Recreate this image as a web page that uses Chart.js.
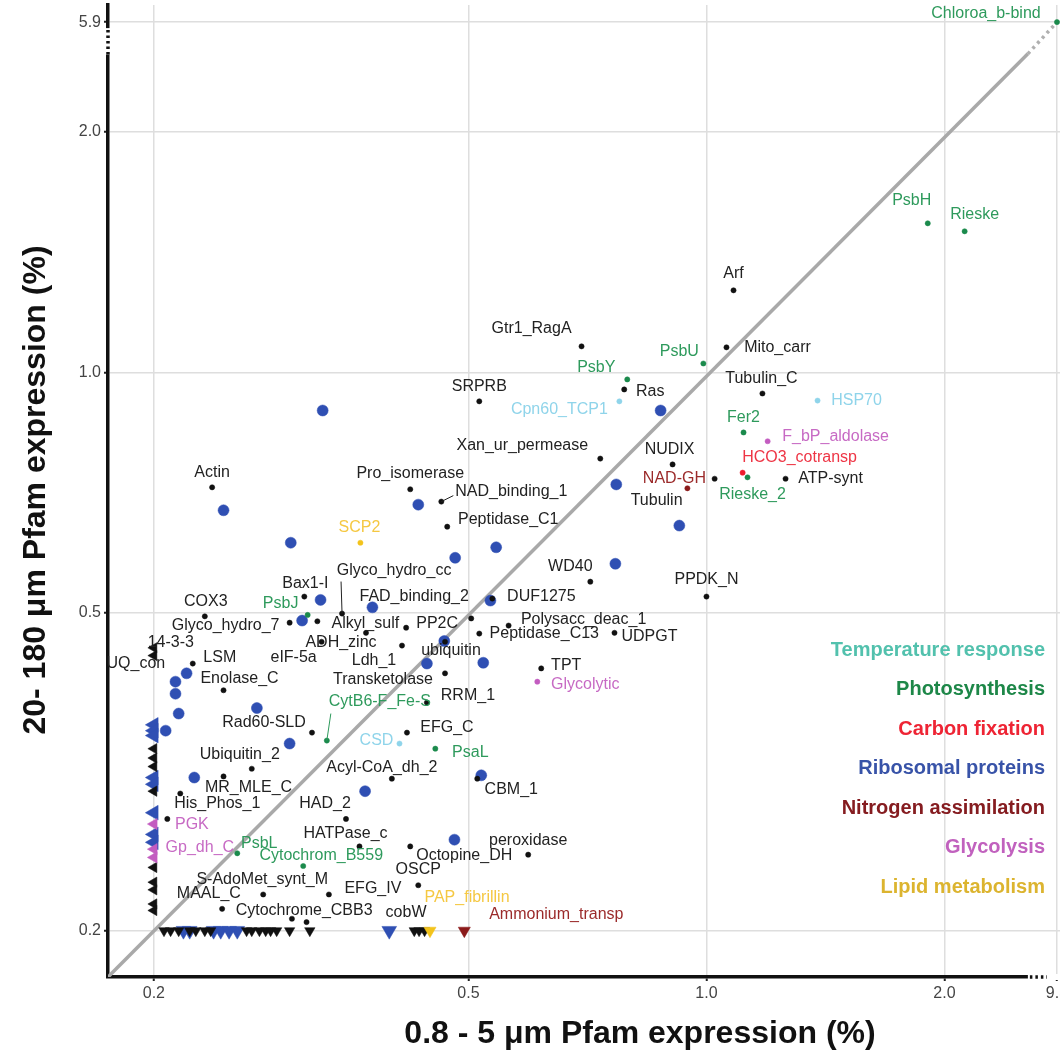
<!DOCTYPE html>
<html>
<head>
<meta charset="utf-8">
<script src="https://cdn.jsdelivr.net/npm/chart.js"></script>
<style>
  html, body { margin: 0; padding: 0; background: #fff; }
  #wrap { width: 1060px; height: 1055px; overflow: hidden; }
</style>
</head>
<body>
<div id="wrap"><canvas id="pfamChart" width="1060" height="1055"></canvas></div>
<script>
// values below this are plotted on the edge as triangles
const DETECT = 0.2;

const xTicks = [0.2, 0.5, 1.0, 2.0, 9.3];
const yTicks = [0.2, 0.5, 1.0, 2.0, 5.9];

const xTitle = '0.8 - 5 μm Pfam expression (%)';
const yTitle = '20- 180 μm Pfam expression (%)';

const groupNames = ['Temperature response', 'Photosynthesis', 'Carbon fixation', 'Ribosomal proteins',
  'Nitrogen assimilation', 'Glycolysis', 'Lipid metabolism'];
const groupColors = ['#52c1ad', '#1d8748', '#ee2434', '#3853a8', '#851c20', '#c161be', '#dcb42f'];

// unassigned Pfams (black)
const otherNames = ['Arf', 'Gtr1_RagA', 'Mito_carr', 'Ras', 'SRPRB', 'Tubulin_C', 'Xan_ur_permease', 'NUDIX', 'Tubulin', 'ATP-synt',
  'PPDK_N', 'Actin', 'Pro_isomerase', 'NAD_binding_1', 'Peptidase_C1', 'WD40', 'DUF1275', 'Bax1-I', 'Glyco_hydro_cc', 'FAD_binding_2',
  'PP2C', 'COX3', 'Glyco_hydro_7', 'Alkyl_sulf', 'eIF-5a', 'ADH_zinc', 'Ldh_1', 'ubiquitin', 'Peptidase_C13', 'Polysacc_deac_1',
  'UDPGT', 'LSM', 'Enolase_C', 'TPT', 'Transketolase', 'RRM_1', 'Rad60-SLD', 'EFG_C', 'Ubiquitin_2', 'Acyl-CoA_dh_2',
  'MR_MLE_C', 'CBM_1', 'His_Phos_1', 'HAD_2', 'HATPase_c', 'peroxidase', 'Octopine_DH', 'OSCP', 'S-AdoMet_synt_M', 'EFG_IV',
  'Cytochrome_CBB3', '', '', ''];
const otherX = [1.082, 0.695, 1.060, 0.787, 0.516, 1.177, 0.734, 0.906, 1.024, 1.259,
  1.000, 0.237, 0.422, 0.462, 0.470, 0.713, 0.536, 0.310, 0.346, 0.504,
  0.417, 0.232, 0.297, 0.322, 0.326, 0.371, 0.412, 0.467, 0.516, 0.562,
  0.765, 0.224, 0.245, 0.618, 0.467, 0.443, 0.317, 0.418, 0.266, 0.400,
  0.245, 0.513, 0.216, 0.350, 0.364, 0.595, 0.422, 0.432, 0.275, 0.333,
  0.244, 0.299, 0.312, 0.208];
const otherY = [1.267, 1.078, 1.075, 0.952, 0.920, 0.941, 0.780, 0.767, 0.736, 0.736,
  0.524, 0.718, 0.714, 0.689, 0.641, 0.547, 0.521, 0.524, 0.499, 0.492,
  0.479, 0.495, 0.486, 0.488, 0.460, 0.472, 0.455, 0.460, 0.471, 0.482,
  0.472, 0.432, 0.400, 0.426, 0.420, 0.386, 0.354, 0.354, 0.319, 0.310,
  0.312, 0.310, 0.297, 0.276, 0.255, 0.249, 0.255, 0.228, 0.222, 0.222,
  0.213, 0.207, 0.205, 0.276];
const otherLeftNames = ['14-3-3', 'UQ_con', '', '', '', '', '', '', 'MAAL_C', '', ''];
const otherLeftY = [0.452, 0.442, 0.338, 0.329, 0.321, 0.299, 0.240, 0.230, 0.225, 0.216, 0.212];
const otherBottomNames = ['', '', '', '', '', '', '', '', '', '', '', '', '', '', '', '', 'cobW', ''];
const otherBottomX = [0.206, 0.210, 0.215, 0.222, 0.226, 0.232, 0.236, 0.262, 0.266, 0.272,
  0.277, 0.281, 0.286, 0.297, 0.315, 0.427, 0.433, 0.440];

// ribosomal proteins (unlabelled)
const riboX = [0.327, 0.875, 0.769, 0.924, 0.767, 0.245, 0.298, 0.432, 0.542, 0.481,
  0.533, 0.325, 0.378, 0.308, 0.466, 0.522, 0.443, 0.220, 0.213, 0.213,
  0.215, 0.270, 0.297, 0.370, 0.225, 0.519, 0.480, 0.207];
const riboY = [0.896, 0.896, 0.724, 0.643, 0.576, 0.672, 0.612, 0.683, 0.604, 0.586,
  0.518, 0.519, 0.508, 0.489, 0.461, 0.433, 0.432, 0.420, 0.410, 0.396,
  0.374, 0.380, 0.343, 0.299, 0.311, 0.313, 0.260, 0.356];
const riboLeftY = [0.362, 0.356, 0.351, 0.311, 0.305, 0.281, 0.264, 0.258];
const riboBottomX = [0.218, 0.222, 0.238, 0.243, 0.249, 0.255, 0.397];

const photoNames = ['Chloroa_b-bind', 'PsbH', 'Rieske', 'PsbU', 'PsbY', 'Fer2', 'Rieske_2', 'PsbJ', 'CytB6-F_Fe-S', 'PsaL', 'PsbL', 'Cytochrom_B559'];
const photoX = [9.3, 1.905, 2.121, 0.991, 0.794, 1.114, 1.127, 0.313, 0.331, 0.454, 0.255, 0.309];
const photoY = [5.9, 1.537, 1.502, 1.026, 0.980, 0.841, 0.739, 0.497, 0.346, 0.338, 0.250, 0.241];

const tempNames = ['Cpn60_TCP1', 'HSP70', 'CSD'];
const tempX = [0.776, 1.382, 0.409];
const tempY = [0.920, 0.922, 0.343];

const carbonNames = ['HCO3_cotransp'];
const carbonX = [1.111];
const carbonY = [0.749];

const nitroNames = ['NAD-GH'];
const nitroX = [0.946];
const nitroY = [0.716];
const nitroBottomNames = ['Ammonium_transp'];
const nitroBottomX = [0.494];

const glycoNames = ['F_bP_aldolase', 'Glycolytic'];
const glycoX = [1.195, 0.611];
const glycoY = [0.820, 0.410];
const glycoLeftNames = ['PGK', 'Gp_dh_C', ''];
const glycoLeftY = [0.272, 0.253, 0.247];

const lipidNames = ['SCP2'];
const lipidX = [0.365];
const lipidY = [0.612];
const lipidBottomNames = ['PAP_fibrillin'];
const lipidBottomX = [0.447];

// label placement, pixels from the point to the label centre
const labelNudge = {
  'Arf': [0, -17], 'Gtr1_RagA': [-50, -18], 'Mito_carr': [51, 0], 'Ras': [26, 2], 'SRPRB': [0, -15],
  'Tubulin_C': [-1, -15], 'Xan_ur_permease': [-78, -13], 'NUDIX': [-3, -15], 'Tubulin': [-58, 22],
  'ATP-synt': [45, 0], 'PPDK_N': [0, -17], 'Actin': [0, -15], 'Pro_isomerase': [0, -16],
  'NAD_binding_1': [70, -10], 'Peptidase_C1': [61, -7], 'WD40': [-20, -15], 'DUF1275': [49, -2],
  'Bax1-I': [1, -13], 'Glyco_hydro_cc': [52, -43], 'FAD_binding_2': [-57, -22], 'PP2C': [31, -4],
  'COX3': [1, -15], 'Glyco_hydro_7': [-64, 3], 'Alkyl_sulf': [48, 2], 'eIF-5a': [-28, 16],
  'ADH_zinc': [-25, 10], 'Ldh_1': [-28, 15], 'ubiquitin': [6, 9], 'Peptidase_C13': [65, 0],
  'Polysacc_deac_1': [75, -6], 'UDPGT': [35, 4], '14-3-3': [17, -5], 'UQ_con': [-18, 8],
  'LSM': [27, -6], 'Enolase_C': [16, -12], 'TPT': [25, -3], 'Transketolase': [-62, 6],
  'RRM_1': [41, -7], 'Rad60-SLD': [-48, -10], 'EFG_C': [40, -5], 'Ubiquitin_2': [-12, -14],
  'Acyl-CoA_dh_2': [-10, -11], 'MR_MLE_C': [25, 11], 'CBM_1': [34, 11], 'His_Phos_1': [37, 10],
  'HAD_2': [-21, -15], 'HATPase_c': [-14, -13], 'peroxidase': [0, -14], 'Octopine_DH': [54, 9],
  'OSCP': [0, -16], 'S-AdoMet_synt_M': [-1, -15], 'MAAL_C': [55, 4], 'EFG_IV': [44, -6],
  'Cytochrome_CBB3': [82, 2], 'cobW': [-13, -18],
  'Chloroa_b-bind': [-71, -9], 'PsbH': [-16, -23], 'Rieske': [10, -17], 'PsbU': [-24, -12],
  'PsbY': [-31, -12], 'Fer2': [0, -15], 'Rieske_2': [5, 17], 'PsbJ': [-27, -11],
  'CytB6-F_Fe-S': [53, -39], 'PsaL': [35, 4], 'PsbL': [22, -10], 'Cytochrom_B559': [18, -10],
  'Cpn60_TCP1': [-60, 8], 'HSP70': [39, 0], 'CSD': [-23, -3], 'HCO3_cotransp': [57, -15],
  'NAD-GH': [-13, -10], 'Ammonium_transp': [92, -16], 'F_bP_aldolase': [68, -5],
  'Glycolytic': [48, 3], 'PGK': [38, 1], 'Gp_dh_C': [46, -2], 'SCP2': [-1, -15], 'PAP_fibrillin': [37, -33]
};
const leaderLines = { 'Glyco_hydro_cc': [-1, -32], 'CytB6-F_Fe-S': [4, -27], 'NAD_binding_1': [12, -6] };

// broken log axis: above `at` the log distance is squeezed
const breaks = { x: { at: 2.55, squeeze: 0.0655 }, y: { at: 2.5, squeeze: 0.109 } };

const LogScale = Chart.LogarithmicScale || Chart.registry.getScale('logarithmic');
class BrokenLogScale extends LogScale {
  squash(v) {
    const b = breaks[this.id];
    if (!b || v == null || v <= b.at) return v;
    const lb = Math.log10(b.at);
    return Math.pow(10, lb + (Math.log10(v) - lb) * b.squeeze);
  }
  getPixelForValue(v) {
    return super.getPixelForValue(this.squash(v));
  }
}
BrokenLogScale.id = 'brokenLog';
BrokenLogScale.defaults = LogScale.defaults;
Chart.register(BrokenLogScale);

function dots(names, xs, ys) {
  return xs.map((x, i) => ({ x: x, y: ys[i], name: names ? names[i] : '' }));
}
function leftEdge(names, ys) {
  return ys.map((y, i) => ({ x: DETECT, y: y, name: names ? names[i] : '', edge: 'left' }));
}
function bottomEdge(names, xs) {
  return xs.map((x, i) => ({ x: x, y: DETECT, name: names ? names[i] : '', edge: 'bottom' }));
}

function group(label, data, color, labelColor, dotR, triR, order) {
  return {
    label: label,
    data: data,
    labelColor: labelColor,
    order: order,
    pointStyle: c => (c.raw && c.raw.edge ? 'triangle' : 'circle'),
    pointRotation: c => (c.raw && c.raw.edge === 'left' ? 270 : (c.raw && c.raw.edge === 'bottom' ? 180 : 0)),
    pointRadius: c => (c.raw && c.raw.edge ? triR : dotR),
    pointBackgroundColor: color,
    pointBorderColor: color,
    pointBorderWidth: 0.5,
    pointHoverRadius: c => (c.raw && c.raw.edge ? triR : dotR)
  };
}

const diagonal = [0.175, breaks.x.at];

const datasets = [
  {
    type: 'line', label: 'y = x', order: 20,
    data: diagonal.map(v => ({ x: v, y: v })),
    borderColor: '#a9a9a9', borderWidth: 3.5, pointRadius: 0, showLine: true
  },
  {
    type: 'line', label: 'y = x (break)', order: 20,
    data: [{ x: breaks.x.at, y: breaks.x.at }, { x: xTicks[xTicks.length - 1], y: yTicks[yTicks.length - 1] }],
    borderColor: '#b0b0b0', borderWidth: 3.5, borderDash: [3, 4], pointRadius: 0, showLine: true
  },
  group('Ribosomal proteins', dots(null, riboX, riboY).concat(leftEdge(null, riboLeftY), bottomEdge(null, riboBottomX)),
    '#2f4fb3', null, 5.5, 8.5, 6),
  group('Other', dots(otherNames, otherX, otherY).concat(leftEdge(otherLeftNames, otherLeftY), bottomEdge(otherBottomNames, otherBottomX)),
    '#111111', '#222222', 2.6, 6, 5),
  group('Photosynthesis', dots(photoNames, photoX, photoY), '#1b8a4c', '#2e9a5c', 2.6, 6.5, 1),
  group('Temperature response', dots(tempNames, tempX, tempY), '#8fd4ea', '#8fd4ea', 2.6, 6.5, 1),
  group('Carbon fixation', dots(carbonNames, carbonX, carbonY), '#ee1c2e', '#ee3545', 2.6, 6.5, 1),
  group('Nitrogen assimilation', dots(nitroNames, nitroX, nitroY).concat(bottomEdge(nitroBottomNames, nitroBottomX)),
    '#8b1a1a', '#9b2a2a', 2.6, 7, 1),
  group('Glycolysis', dots(glycoNames, glycoX, glycoY).concat(leftEdge(glycoLeftNames, glycoLeftY)),
    '#c35cc0', '#c76ac4', 2.6, 6.5, 1),
  group('Lipid metabolism', dots(lipidNames, lipidX, lipidY).concat(bottomEdge(lipidBottomNames, lipidBottomX)),
    '#f3c31b', '#f5c842', 2.6, 7, 1)
];

const labelPlugin = {
  id: 'pfamLabels',
  afterDatasetsDraw(chart) {
    const ctx = chart.ctx;
    ctx.save();
    ctx.font = '16px "Liberation Sans", Arial, sans-serif';
    ctx.textAlign = 'center';
    ctx.textBaseline = 'middle';
    chart.data.datasets.forEach((ds, di) => {
      if (!ds.labelColor) return;
      const meta = chart.getDatasetMeta(di);
      meta.data.forEach((pt, i) => {
        const name = ds.data[i].name;
        if (!name) return;
        const nudge = labelNudge[name] || [0, -15];
        const lead = leaderLines[name];
        if (lead) {
          ctx.strokeStyle = ds.labelColor;
          ctx.lineWidth = 1;
          ctx.beginPath();
          ctx.moveTo(pt.x, pt.y);
          ctx.lineTo(pt.x + lead[0], pt.y + lead[1]);
          ctx.stroke();
        }
        ctx.fillStyle = ds.labelColor;
        ctx.fillText(name, pt.x + nudge[0], pt.y + nudge[1]);
      });
    });
    ctx.restore();
  }
};

const breakPlugin = {
  id: 'axisBreaks',
  afterDraw(chart) {
    const { ctx, chartArea } = chart;
    const xs = chart.scales.x, ys = chart.scales.y;
    ctx.save();
    ctx.fillStyle = '#fff';
    ctx.strokeStyle = '#111';
    ctx.lineWidth = 3.5;
    ctx.setLineDash([2.5, 3]);
    // y axis break
    const yLow = ys.getPixelForValue(breaks.y.at);
    const yHigh = ys.getPixelForValue(yTicks[yTicks.length - 1]) + 6;
    ctx.fillRect(chartArea.left - 3, yHigh, 6, yLow - yHigh);
    ctx.beginPath();
    ctx.moveTo(chartArea.left, yHigh + 2);
    ctx.lineTo(chartArea.left, yLow);
    ctx.stroke();
    // x axis break
    const xLow = xs.getPixelForValue(breaks.x.at);
    const xHigh = xs.getPixelForValue(xTicks[xTicks.length - 1]) - 10;
    ctx.fillRect(xLow, chartArea.bottom - 3, chartArea.right - xLow, 6);
    ctx.beginPath();
    ctx.moveTo(xLow + 2, chartArea.bottom);
    ctx.lineTo(xHigh, chartArea.bottom);
    ctx.stroke();
    ctx.restore();
  }
};

const titlePlugin = {
  id: 'axisTitles',
  afterDraw(chart) {
    const ctx = chart.ctx;
    ctx.save();
    ctx.font = 'bold 32px "Liberation Sans", Arial, sans-serif';
    ctx.fillStyle = '#111';
    ctx.textAlign = 'center';
    ctx.textBaseline = 'middle';
    ctx.fillText(xTitle, 640, 1034);
    ctx.translate(36, 490);
    ctx.rotate(-Math.PI / 2);
    ctx.fillText(yTitle, 0, 0);
    ctx.restore();
  }
};

const groupLegendPlugin = {
  id: 'groupLegend',
  afterDraw(chart) {
    const ctx = chart.ctx;
    ctx.save();
    ctx.font = 'bold 20px "Liberation Sans", Arial, sans-serif';
    ctx.textAlign = 'right';
    ctx.textBaseline = 'middle';
    groupNames.forEach((g, i) => {
      ctx.fillStyle = groupColors[i];
      ctx.fillText(g, 1045, 650 + i * 39.5);
    });
    ctx.restore();
  }
};

const tickFont = { family: '"Liberation Sans", Arial, sans-serif', size: 16 };
const gridStyle = { color: '#dedede', lineWidth: 1.5, tickColor: '#222', tickLength: 4, tickWidth: 2 };
const borderStyle = { display: true, color: '#111', width: 3.5 };

new Chart(document.getElementById('pfamChart'), {
  type: 'scatter',
  data: { datasets: datasets },
  options: {
    responsive: false,
    animation: false,
    devicePixelRatio: 1,
    layout: { autoPadding: false, padding: { top: 5, right: 0, bottom: 0, left: 0 } },
    plugins: { legend: { display: false }, tooltip: { enabled: false } },
    events: [],
    scales: {
      x: {
        type: 'brokenLog',
        bounds: 'data',
        min: 0.175,
        max: 2.8,
        afterBuildTicks: s => { s.ticks = xTicks.map(v => ({ value: v })); },
        afterFit: s => { s.height = 78; s.paddingLeft = 0; s.paddingRight = 0; },
        ticks: { callback: v => Number(v).toFixed(1), color: '#444', font: tickFont, maxRotation: 0, autoSkip: false, padding: 3 },
        grid: gridStyle,
        border: borderStyle,
        title: { display: false, text: xTitle }
      },
      y: {
        type: 'brokenLog',
        bounds: 'data',
        min: 0.175,
        max: 2.884,
        afterBuildTicks: s => { s.ticks = yTicks.map(v => ({ value: v })); },
        afterFit: s => { s.width = 108; s.paddingTop = 0; s.paddingBottom = 0; },
        ticks: { callback: v => Number(v).toFixed(1), color: '#444', font: tickFont, autoSkip: false, padding: 3 },
        grid: gridStyle,
        border: borderStyle,
        title: { display: false, text: yTitle }
      }
    }
  },
  plugins: [labelPlugin, breakPlugin, titlePlugin, groupLegendPlugin]
});
</script>
</body>
</html>
